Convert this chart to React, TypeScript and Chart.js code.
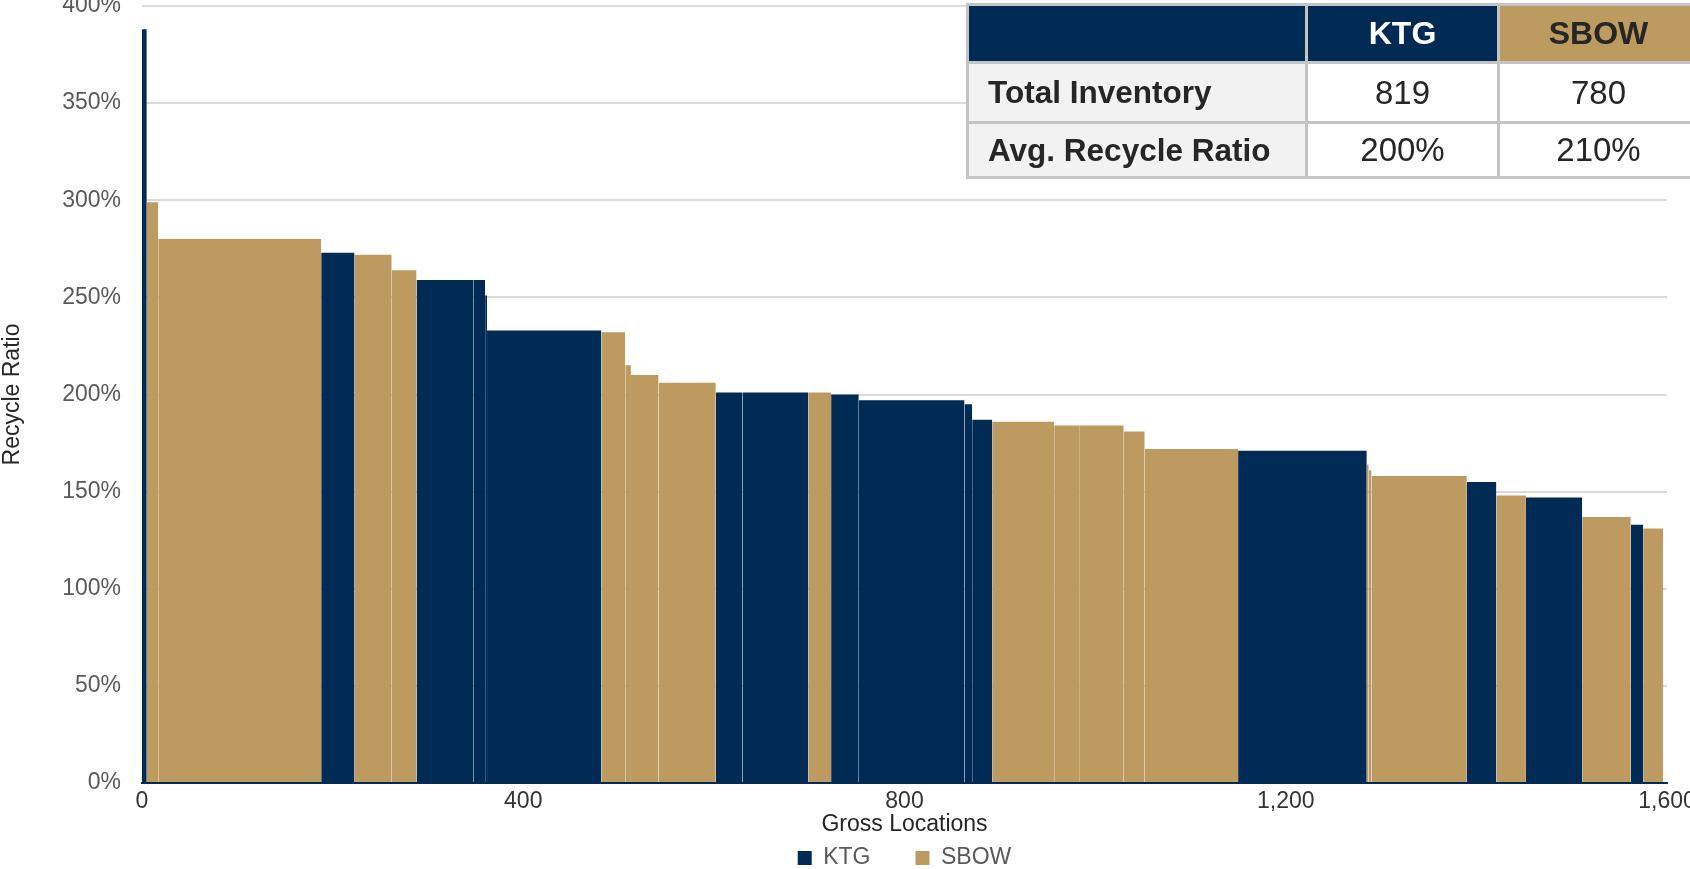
import React, { useEffect, useRef } from 'react';
import { Chart, registerables } from 'chart.js';

Chart.register(...registerables);

const NAVY = '#012a55';
const GOLD = '#bd9a60';
const FONT = "'Liberation Sans', Arial, sans-serif";

// Each segment: owner company, number of gross locations (bar width), recycle ratio (%)
const segmentOwners = [
  'KTG', 'SBOW', 'SBOW', 'KTG', 'SBOW', 'SBOW', 'KTG', 'KTG', 'KTG', 'KTG',
  'SBOW', 'SBOW', 'SBOW', 'SBOW', 'KTG', 'KTG', 'SBOW', 'KTG', 'KTG', 'KTG',
  'KTG', 'SBOW', 'SBOW', 'SBOW', 'SBOW', 'SBOW', 'KTG', 'SBOW', 'SBOW', 'SBOW',
  'KTG', 'SBOW', 'KTG', 'SBOW', 'KTG', 'SBOW',
];
const segmentLocations = [
  5, 12, 171, 35, 39, 26, 60, 12, 2, 120,
  25, 6, 29, 60, 28, 69, 24, 29, 111, 8,
  21, 65, 27, 46, 22, 98, 135, 2, 3, 100,
  31, 31, 59, 51, 13, 21,
];
const segmentRatios = [
  388, 299, 280, 273, 272, 264, 259, 259, 251, 233,
  232, 215, 210, 206, 201, 201, 201, 200, 197, 195,
  187, 186, 184, 184, 181, 172, 171, 164, 161, 158,
  155, 148, 147, 137, 133, 131,
];

const companies = ['KTG', 'SBOW'];
const companyColors = [NAVY, GOLD];
const xTickValues = [0, 400, 800, 1200, 1600];
const yTickValues = [0, 50, 100, 150, 200, 250, 300, 350, 400];

const tableColumns = ['', 'KTG', 'SBOW'];
const tableRowLabels = ['Total Inventory', 'Avg. Recycle Ratio'];
const ktgTableValues = ['819', '200%'];
const sbowTableValues = ['780', '210%'];

export default function App() {
  const canvasRef = useRef<HTMLCanvasElement | null>(null);

  useEffect(() => {
    if (!canvasRef.current) return;
    const starts: number[] = [];
    let acc = 0;
    segmentLocations.forEach((w) => {
      starts.push(acc);
      acc += w;
    });

    const datasets = segmentRatios.map((v, i) => {
      const color = companyColors[companies.indexOf(segmentOwners[i])];
      return {
        type: 'line' as const,
        label: segmentOwners[i],
        data: [
          { x: starts[i], y: v },
          { x: starts[i] + segmentLocations[i], y: v },
        ],
        backgroundColor: color,
        borderColor: color,
        borderWidth: 0,
        pointRadius: 0,
        pointHoverRadius: 0,
        tension: 0,
        fill: 'origin',
      };
    });

    const chart = new Chart(canvasRef.current, {
      type: 'line',
      data: { datasets: datasets as any },
      options: {
        responsive: false,
        animation: false,
        devicePixelRatio: 1,
        events: [],
        layout: { padding: { top: 6, right: 23, left: 0, bottom: -10.5 } },
        plugins: {
          tooltip: { enabled: false },
          legend: {
            display: true,
            position: 'bottom',
            fullSize: false,
            title: {
              display: true,
              text: '',
              padding: { top: -40.5, bottom: 0 },
              font: { family: FONT, size: 1, lineHeight: 1 },
            },
            labels: {
              boxWidth: 14,
              boxHeight: 14,
              padding: 45,
              color: '#595959',
              font: { family: FONT, size: 23 },
              filter: (item: any) => segmentOwners.indexOf(item.text) === item.datasetIndex,
            },
          },
        },
        scales: {
          x: {
            type: 'linear',
            min: 0,
            max: 1600,
            afterBuildTicks: (scale: any) => {
              scale.ticks = xTickValues.map((value) => ({ value }));
            },
            afterFit: (scale: any) => {
              scale.height = 58;
              scale.paddingLeft = 0;
              scale.paddingRight = 0;
            },
            grid: { display: false, drawTicks: false },
            border: { display: true, color: NAVY, width: 2, z: 1 },
            ticks: {
              padding: 5,
              color: '#333333',
              maxRotation: 0,
              autoSkip: false,
              font: { family: FONT, size: 23 },
              callback: (v: any) => Number(v).toLocaleString('en-US'),
            },
            title: {
              display: true,
              text: 'Gross Locations',
              color: '#262626',
              font: { family: FONT, size: 23, lineHeight: 1 },
              padding: { top: 0, bottom: 4.5 },
            },
          },
          y: {
            type: 'linear',
            min: 0,
            max: 400,
            afterBuildTicks: (scale: any) => {
              scale.ticks = yTickValues.map((value) => ({ value }));
            },
            afterFit: (scale: any) => {
              scale.width = 142;
              scale.paddingTop = 0;
              scale.paddingBottom = 0;
            },
            grid: { color: '#d9d9d9', lineWidth: 2, drawTicks: false },
            border: { display: false },
            ticks: {
              padding: 21,
              color: '#595959',
              font: { family: FONT, size: 23 },
              callback: (v: any) => `${v}%`,
            },
            title: {
              display: true,
              text: 'Recycle Ratio',
              color: '#262626',
              font: { family: FONT, size: 23, lineHeight: 1 },
              padding: { top: 1, bottom: 0 },
            },
          },
        },
      },
    });
    return () => chart.destroy();
  }, []);

  const border = '3px solid #c4c4c4';
  const colWidths = [339, 192, 200];
  const rowHeights = [58, 60, 55];

  return (
    <div
      style={{
        position: 'fixed',
        left: 0,
        top: 0,
        width: 1690,
        height: 869,
        overflow: 'hidden',
        background: '#ffffff',
      }}
    >
      <canvas ref={canvasRef} width={1690} height={869} style={{ display: 'block', width: 1690, height: 869 }} />
      <table
        style={{
          position: 'absolute',
          left: 966,
          top: 3,
          borderCollapse: 'collapse',
          tableLayout: 'fixed',
          width: colWidths.reduce((a, b) => a + b, 0),
          fontFamily: FONT,
        }}
      >
        <colgroup>
          {colWidths.map((w, i) => (
            <col key={i} style={{ width: w }} />
          ))}
        </colgroup>
        <tbody>
          <tr style={{ height: rowHeights[0] }}>
            {tableColumns.map((c, i) => (
              <td
                key={i}
                style={{
                  border,
                  padding: 0,
                  textAlign: 'center',
                  fontWeight: 'bold',
                  fontSize: 32,
                  background: i === 2 ? GOLD : NAVY,
                  color: i === 2 ? '#262626' : '#ffffff',
                }}
              >
                {c}
              </td>
            ))}
          </tr>
          {tableRowLabels.map((label, r) => (
            <tr key={r} style={{ height: rowHeights[r + 1] }}>
              <td
                style={{
                  border,
                  padding: '0 0 0 19px',
                  fontWeight: 'bold',
                  fontSize: 31.5,
                  color: '#262626',
                  background: '#f2f2f2',
                  whiteSpace: 'nowrap',
                }}
              >
                {label}
              </td>
              <td style={{ border, padding: 0, textAlign: 'center', fontSize: 33, color: '#262626', background: '#ffffff' }}>
                {ktgTableValues[r]}
              </td>
              <td style={{ border, padding: 0, textAlign: 'center', fontSize: 33, color: '#262626', background: '#ffffff' }}>
                {sbowTableValues[r]}
              </td>
            </tr>
          ))}
        </tbody>
      </table>
    </div>
  );
}
